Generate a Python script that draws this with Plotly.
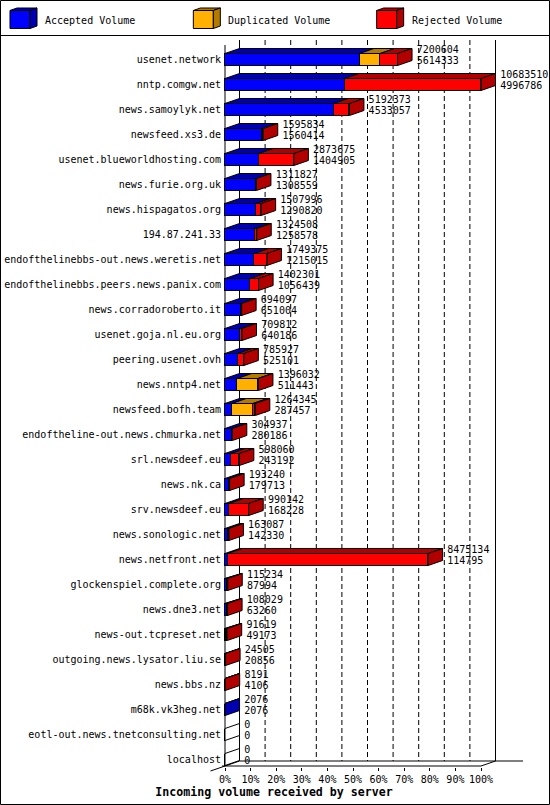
import plotly.graph_objects as go

servers = [
    "usenet.network", "nntp.comgw.net", "news.samoylyk.net", "newsfeed.xs3.de",
    "usenet.blueworldhosting.com", "news.furie.org.uk", "news.hispagatos.org",
    "194.87.241.33", "endofthelinebbs-out.news.weretis.net",
    "endofthelinebbs.peers.news.panix.com", "news.corradoroberto.it",
    "usenet.goja.nl.eu.org", "peering.usenet.ovh", "news.nntp4.net",
    "newsfeed.bofh.team", "endoftheline-out.news.chmurka.net", "srl.newsdeef.eu",
    "news.nk.ca", "srv.newsdeef.eu", "news.sonologic.net", "news.netfront.net",
    "glockenspiel.complete.org", "news.dne3.net", "news-out.tcpreset.net",
    "outgoing.news.lysator.liu.se", "news.bbs.nz", "m68k.vk3heg.net",
    "eotl-out.news.tnetconsulting.net", "localhost",
]
total_volume = [
    7200604, 10683510, 5192373, 1595834, 2873675, 1311827, 1507996, 1324508,
    1749375, 1402301, 694097, 709812, 785927, 1396032, 1264345, 304937, 598060,
    193240, 990142, 163087, 8475134, 115234, 108029, 91619, 24505, 8191, 2076, 0, 0,
]
accepted_volume = [
    5614333, 4996786, 4533057, 1560414, 1404905, 1308559, 1290820, 1258578,
    1215015, 1056439, 651004, 640186, 525101, 511443, 287457, 280186, 243192,
    179713, 168228, 142330, 114795, 87994, 63260, 49173, 20856, 4106, 2076, 0, 0,
]
duplicated_volume = [
    860000, 0, 0, 0, 0, 0, 0, 0, 0, 0, 0, 0, 0, 870000, 880000, 0, 0,
    0, 0, 0, 0, 0, 0, 0, 0, 0, 0, 0, 0,
]
rejected_volume = [t - a - d for t, a, d in zip(total_volume, accepted_volume, duplicated_volume)]
pct_ticks = list(range(0, 101, 10))
pct_labels = [f"{t}%" for t in pct_ticks]

FONT = "DejaVu Sans Mono"
BLUE, ORANGE, RED = "#0000FF", "#FFB000", "#FF0000"
BLUE_D, ORANGE_D, RED_D = "#0000B2", "#B27B00", "#B20000"

# page geometry (pixels)
W, H = 550, 805
L, R, T, B = 222, 25, 39, 38
X0PX = 225          # where 0% sits on the front plane
PX_PER_PCT = 2.56
ROW0_PX = 59.5      # centre of first row
ROW_PX = 25
DX = 14.5 / PX_PER_PCT   # 3d depth in x units
DY = 5 / ROW_PX          # 3d depth in row units
HALF = 6 / ROW_PX        # half bar thickness
LABEL_GAP = 4.7 / PX_PER_PCT


def paper_x(p):
    return (p - L) / (W - L - R)


def paper_y(p):
    return (H - B - p) / (H - T - B)


scale = 100 / max(total_volume)
rows = list(range(len(servers)))
series = [
    ("Accepted Volume", [v * scale for v in accepted_volume], BLUE, BLUE_D),
    ("Duplicated Volume", [v * scale for v in duplicated_volume], ORANGE, ORANGE_D),
    ("Rejected Volume", [v * scale for v in rejected_volume], RED, RED_D),
]

fig = go.Figure()

# front faces
for name, vals, col, dcol in series:
    fig.add_trace(go.Bar(
        y=rows, x=vals, orientation="h", width=2 * HALF, name=name,
        marker=dict(color=col, line=dict(color="black", width=1)),
        showlegend=False, hoverinfo="skip",
    ))

# top faces, one trace per series
starts = [0.0] * len(rows)
last_col = ["white"] * len(rows)
for name, vals, col, dcol in series:
    tx, ty = [], []
    for i, v in enumerate(vals):
        a, b = starts[i], starts[i] + v
        if v > 0:
            tx += [a, a + DX, b + DX, b, a, None]
            ty += [i - HALF, i - HALF - DY, i - HALF - DY, i - HALF, i - HALF, None]
            last_col[i] = dcol
        starts[i] = b
    fig.add_trace(go.Scatter(
        x=tx, y=ty, mode="lines", fill="toself", fillcolor=dcol,
        line=dict(color="black", width=1), showlegend=False, hoverinfo="skip",
    ))

# side faces at the end of each bar
for dcol in [BLUE_D, ORANGE_D, RED_D, "white"]:
    sx, sy = [], []
    for i in rows:
        if last_col[i] != dcol:
            continue
        b = starts[i]
        sx += [b, b + DX, b + DX, b, b, None]
        sy += [i - HALF, i - HALF - DY, i + HALF - DY, i + HALF, i - HALF, None]
    if sx:
        fig.add_trace(go.Scatter(
            x=sx, y=sy, mode="lines", fill="toself", fillcolor=dcol,
            line=dict(color="black", width=1), showlegend=False, hoverinfo="skip",
        ))

# value labels: total on top, accepted below
label_x = [s + DX + LABEL_GAP for s in starts]
fig.add_trace(go.Scatter(
    x=label_x, y=[i - 0.372 for i in rows], mode="text", cliponaxis=False,
    text=[str(v) for v in total_volume], textposition="middle right",
    textfont=dict(family=FONT, size=10, color="black"),
    showlegend=False, hoverinfo="skip",
))
fig.add_trace(go.Scatter(
    x=label_x, y=[i + 0.068 for i in rows], mode="text", cliponaxis=False,
    text=[str(v) for v in accepted_volume], textposition="middle right",
    textfont=dict(family=FONT, size=10, color="black"),
    showlegend=False, hoverinfo="skip",
))

# 3d frame: walls, floor and dashed grid
YF = (766 - ROW0_PX) / ROW_PX
YB = YF - DY
YT = (40 - ROW0_PX) / ROW_PX
shapes = []
blk = dict(color="black", width=1)
for t in pct_ticks[1:-1]:
    shapes.append(dict(type="line", x0=t + DX, x1=t + DX, y0=YT, y1=YB, layer="below",
                       line=dict(color="black", width=1, dash="5px,3px")))
shapes += [
    dict(type="line", x0=DX, x1=DX, y0=YT, y1=YB, line=blk, layer="below"),
    dict(type="line", x0=100 + DX, x1=100 + DX, y0=YT, y1=YB, line=blk, layer="below"),
    dict(type="line", x0=DX, x1=(523 - X0PX) / PX_PER_PCT, y0=YB, y1=YB, line=blk, layer="below"),
    dict(type="line", x0=0, x1=0, y0=YT + DY, y1=YF, line=blk, layer="below"),
    dict(type="line", x0=(221 - X0PX) / PX_PER_PCT, x1=100, y0=YF, y1=YF, line=blk, layer="below"),
    dict(type="line", x0=100, x1=100 + DX, y0=YF, y1=YB, line=blk, layer="below"),
]
# floor edge that pokes out left of the front axis
shapes.append(dict(type="line", xref="paper", yref="paper",
                   x0=paper_x(X0PX - 14.5), y0=paper_y(766 + 5),
                   x1=paper_x(X0PX + 14.5), y1=paper_y(766 - 5), line=blk))

# page border and legend strip
shapes.append(dict(type="rect", xref="paper", yref="paper",
                   x0=paper_x(0.5), x1=paper_x(W - 0.5), y0=paper_y(0.5), y1=paper_y(H - 0.5),
                   line=blk))
shapes.append(dict(type="line", xref="paper", yref="paper",
                   x0=paper_x(0), x1=paper_x(W), y0=paper_y(35.5), y1=paper_y(35.5), line=blk))

annotations = []
for k, (name, vals, col, dcol) in enumerate(series):
    x0 = 10 + k * W / 3
    fx0, fx1, fy0, fy1 = x0, x0 + 20, 10.5, 28.5
    ddx, ddy = 7, 2.5

    def pth(pts):
        return "M " + " L ".join(f"{paper_x(a):.5f},{paper_y(b):.5f}" for a, b in pts) + " Z"

    shapes.append(dict(type="path", xref="paper", yref="paper", fillcolor=col, line=blk,
                       path=pth([(fx0, fy0), (fx1, fy0), (fx1, fy1), (fx0, fy1)])))
    shapes.append(dict(type="path", xref="paper", yref="paper", fillcolor=dcol, line=blk,
                       path=pth([(fx0, fy0), (fx0 + ddx, fy0 - ddy), (fx1 + ddx, fy0 - ddy), (fx1, fy0)])))
    shapes.append(dict(type="path", xref="paper", yref="paper", fillcolor=dcol, line=blk,
                       path=pth([(fx1, fy0), (fx1 + ddx, fy0 - ddy), (fx1 + ddx, fy1 - ddy), (fx1, fy1)])))
    annotations.append(dict(xref="paper", yref="paper", x=paper_x(x0 + 33), y=paper_y(20),
                            xanchor="left", yanchor="middle", showarrow=False, text=name,
                            font=dict(family=FONT, size=10, color="black")))

fig.update_layout(
    width=W, height=H,
    margin=dict(l=L, r=R, t=T, b=B, pad=0, autoexpand=False),
    paper_bgcolor="white", plot_bgcolor="white",
    barmode="stack", bargap=0,
    showlegend=False,
    shapes=shapes, annotations=annotations,
    title=dict(text="<b>Incoming volume received by server</b>", xref="container", yref="container",
               x=274 / W, y=1 - 791.7 / H, xanchor="center", yanchor="middle",
               font=dict(family=FONT, size=11.6, color="black")),
    xaxis=dict(range=[(L - X0PX) / PX_PER_PCT, (W - R - X0PX) / PX_PER_PCT],
               tickmode="array", tickvals=pct_ticks, ticktext=pct_labels,
               ticks="outside", ticklen=3, tickcolor="black", automargin=False,
               showgrid=False, zeroline=False, showline=False, fixedrange=True,
               tickfont=dict(family=FONT, size=10, color="black")),
    yaxis=dict(range=[(H - B - ROW0_PX) / ROW_PX, (T - ROW0_PX) / ROW_PX],
               tickmode="array", tickvals=rows, ticktext=servers, ticks="", automargin=False,
               showgrid=False, zeroline=False, showline=False, fixedrange=True,
               tickfont=dict(family=FONT, size=10, color="black")),
)

# the page's default body margin would push the 550x805 figure off the window
fig.write_html("out.html", config={"displayModeBar": False},
               post_script="document.body.style.margin='0';document.body.style.overflow='hidden';")
